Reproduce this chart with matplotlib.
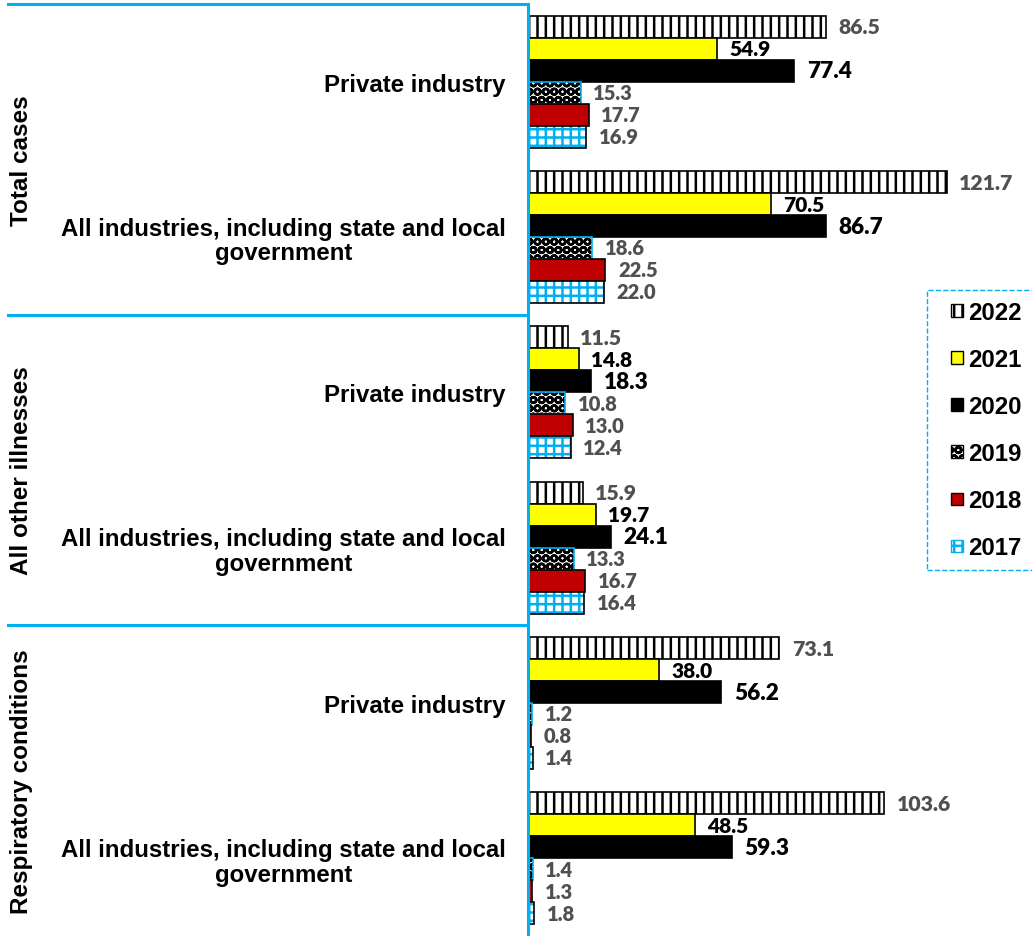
import numpy as np
import matplotlib
matplotlib.use("Agg")
import matplotlib.pyplot as plt
import matplotlib.transforms as mtransforms
from matplotlib.patches import Patch, Rectangle
from matplotlib.legend_handler import HandlerPatch

# data, top to bottom
groups = ["Total cases", "All other illnesses", "Respiratory conditions"]
rows = ["Private industry",
        "All industries, including state and local\ngovernment"] * 3
years = ["2022", "2021", "2020", "2019", "2018", "2017"]
v2022 = [86.5, 121.7, 11.5, 15.9, 73.1, 103.6]
v2021 = [54.9, 70.5, 14.8, 19.7, 38.0, 48.5]
v2020 = [77.4, 86.7, 18.3, 24.1, 56.2, 59.3]
v2019 = [15.3, 18.6, 10.8, 13.3, 1.2, 1.4]
v2018 = [17.7, 22.5, 13.0, 16.7, 0.8, 1.3]
v2017 = [16.9, 22.0, 12.4, 16.4, 1.4, 1.8]
series = [v2022, v2021, v2020, v2019, v2018, v2017]

BLUE = "#00B0F0"
GRAY = "#505050"
plt.rcParams["hatch.linewidth"] = 1.8

fig = plt.figure(figsize=(10.32, 9.37), dpi=100)
ax = fig.add_axes([528 / 1032, 0, 1 - 528 / 1032, 932 / 937])

y = np.arange(len(rows))
h = 0.1415
start = -3 * h

# (face, hatch colour, hatch, border colour)
styles = [
    ("white", "black", "||", "black"),
    ("#FFFF00", "black", None, "black"),
    ("black", "black", None, "black"),
    ("white", "black", "OO", BLUE),
    ("#C00000", "black", None, "black"),
    ("white", BLUE, "++", "black"),
]
lab_style = [(GRAY, 15.3), ("black", 15), ("black", 16.3),
             (GRAY, 14.5), (GRAY, 14.5), (GRAY, 14.5)]

for j, vals in enumerate(series):
    face, hc, hatch, border = styles[j]
    pos = y + start + (j + 0.5) * h
    if hatch:
        ax.barh(pos, vals, height=h, color=face, edgecolor=hc, hatch=hatch, linewidth=0)
        ax.barh(pos, vals, height=h, fill=False, edgecolor=border, linewidth=1.2)
    else:
        ax.barh(pos, vals, height=h, color=face, edgecolor=border, linewidth=1.2)
    col, fs = lab_style[j]
    for p, v in zip(pos, vals):
        ax.annotate(f"{v:.1f}", (v, p), xytext=(9, 0), textcoords="offset points",
                    va="center", ha="left", fontsize=fs, fontweight="heavy",
                    color=col, family="Lato")

ax.set_ylim(len(rows) - 0.5, -0.5)
ax.set_xlim(0, 146.5)
ax.set_xticks([])
ax.set_yticks(y)
ax.set_yticklabels(rows, fontsize=17.3, fontweight="bold", family="Liberation Sans")
for t in ax.get_yticklabels():
    t.set_multialignment("center")
    t.set_linespacing(1.1)
ax.tick_params(axis="y", length=0, pad=16)
for s in ["top", "right", "bottom"]:
    ax.spines[s].set_visible(False)
ax.spines["left"].set_color(BLUE)
ax.spines["left"].set_linewidth(2.2)

# separators between the groups
blend = mtransforms.blended_transform_factory(fig.transFigure, ax.transData)
for yy in [-0.5, 1.5, 3.5]:
    ax.plot([8 / 1032, 528 / 1032], [yy, yy], color=BLUE, lw=2.2,
            transform=blend, clip_on=False)

for k, g in enumerate(groups):
    yc = 2 * k + 0.5
    ax.text(22 / 1032, yc, g, transform=blend, rotation=90, ha="center",
            va="center", fontsize=17.5, fontweight="bold", family="Liberation Sans")


def small_square(legend, orig_handle, xdescent, ydescent, width, height, fontsize):
    s = 9.0
    return Rectangle((-xdescent + width - s, -ydescent + (height - s) / 2), s, s)


handles = []
for j, yr in enumerate(years):
    face, hc, hatch, border = styles[j]
    handles.append(Patch(facecolor=face, edgecolor=hc if hatch else border,
                         hatch=hatch, linewidth=1, label=yr))
leg = fig.legend(handles=handles, loc="upper left",
                 bbox_to_anchor=(927 / 1032, 1 - 291 / 937),
                 handler_map={Patch: HandlerPatch(patch_func=small_square)},
                 prop={"family": "Liberation Sans", "weight": "bold", "size": 17.3},
                 handlelength=1.05, handleheight=0.7, handletextpad=0.2,
                 labelspacing=1.0, borderpad=0.46, borderaxespad=0,
                 fancybox=False, framealpha=1)
leg.get_frame().set_edgecolor(BLUE)
leg.get_frame().set_linestyle("--")
leg.get_frame().set_linewidth(1)

fig.savefig("out.png", dpi=100)
